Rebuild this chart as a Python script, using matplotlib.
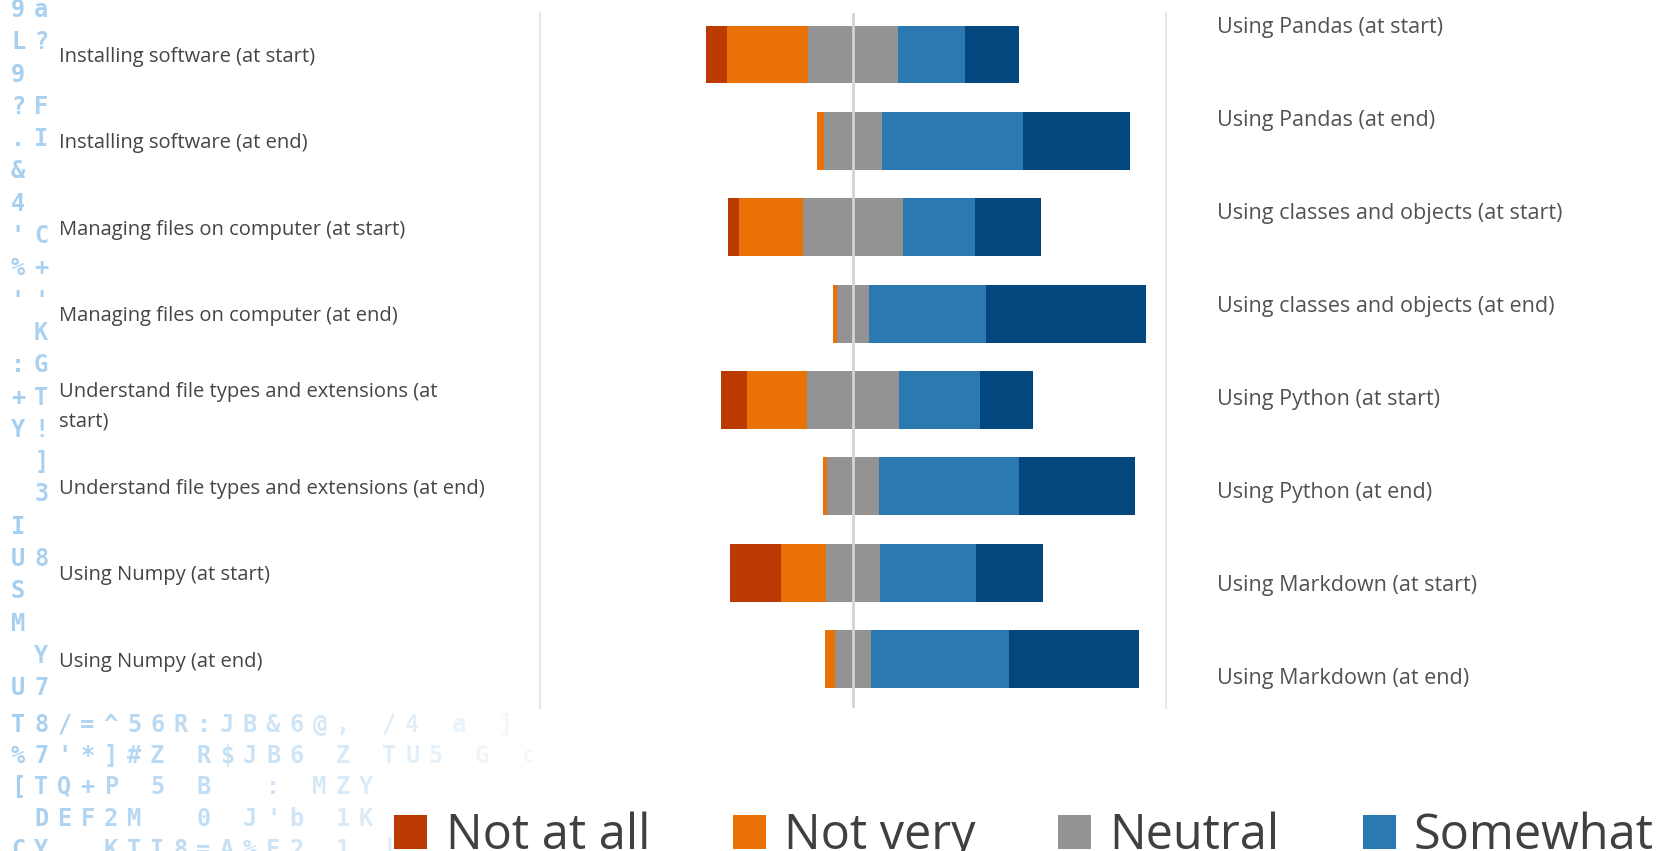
import matplotlib.pyplot as plt
import numpy as np

# survey answers (% of respondents), one bar per skill
categories = ["Installing software (at start)",
              "Installing software (at end)",
              "Managing files on computer (at start)",
              "Managing files on computer (at end)",
              "Understand file types and extensions (at\nstart)",
              "Understand file types and extensions (at end)",
              "Using Numpy (at start)",
              "Using Numpy (at end)"]
not_at_all = [6.7, 0.0, 3.5, 0.0, 8.4, 0.0, 16.1, 0.0]
not_very = [25.8, 2.3, 20.6, 1.2, 19.2, 1.4, 14.4, 3.2]
neutral = [29.0, 18.5, 31.7, 10.2, 29.4, 16.5, 17.3, 11.2]
somewhat = [21.2, 45.1, 23.1, 37.3, 25.9, 44.8, 30.7, 44.2]
very = [17.3, 34.0, 21.2, 51.2, 17.0, 37.2, 21.4, 41.5]

# labels of the next panel, cut off at the right
right_labels = ["Using Pandas (at start)", "Using Pandas (at end)",
                "Using classes and objects (at start)",
                "Using classes and objects (at end)",
                "Using Python (at start)", "Using Python (at end)",
                "Using Markdown (at start)", "Using Markdown (at end)"]

legend_labels = ["Not at all", "Not very", "Neutral", "Somewhat", "Very"]
colors = ["#BA3A02", "#E97105", "#939393", "#2C78B0", "#03477F"]

# faint background characters
matrix_top = ["9a", "L?", "9 ", "?F", ".I", "& ", "4 ", "'C", "%+", "''", " K",
              ":G", "+T", "Y!", " ]", " 3", "I ", "U8", "S ", "M ", " Y", "U7"]
matrix_bottom = ["T8/=^56R:JB&6@, /4 a ]",
                 "%7'*]#Z R$JB6 Z TU5 G c",
                 "[TQ+P 5 B  : MZY",
                 " DEF2M  0 J'b 1K",
                 "CY  KTI8=A%F2 1 |"]

W, H = 1664, 851
fig = plt.figure(figsize=(W / 100, H / 100), dpi=100)


def put_chars(rows, y0, dy):
    for r, row in enumerate(rows):
        for i, ch in enumerate(row):
            if ch == " ":
                continue
            fig.text((18 + 23.2 * i) / W, 1 - (y0 + dy * r) / H, ch,
                     ha="center", va="center", family="DejaVu Sans Mono",
                     weight="bold", fontsize=17, color="#3b95dc",
                     alpha=max(0.05, 0.45 - 0.018 * i))


put_chars(matrix_top, 10, 32.3)
put_chars(matrix_bottom, 725, 31.2)

ax = fig.add_axes([540 / W, 1 - 708 / H, 626 / W, (708 - 12.7) / H])
y = np.arange(len(categories))
parts = [np.array(v) for v in (not_at_all, not_very, neutral, somewhat, very)]
left = -(parts[2] / 2 + parts[1] + parts[0])
handles = []
for vals, c, lab in zip(parts, colors, legend_labels):
    b = ax.barh(y, vals, left=left, height=0.67, color=c, label=lab)
    handles.append(b)
    left = left + vals

ax.axvline(0, color="#d4d4d4", lw=2, zorder=5)
ax.set_xlim(-100, 100)
ax.set_ylim(7.567, -0.484)
ax.set_xticks([])
ax.set_yticks(y, categories)
ax.tick_params(axis="y", length=0, pad=(540 - 59) * 0.72)
for t in ax.get_yticklabels():
    t.set_ha("left")
    t.set_family("Open Sans")
    t.set_fontsize(14.5)
    t.set_color("#454545")
    t.set_linespacing(1.58)
for s in ["top", "bottom"]:
    ax.spines[s].set_visible(False)
for s in ["left", "right"]:
    ax.spines[s].set_color("#e8e8e8")
    ax.spines[s].set_linewidth(1.5)

ax2 = fig.add_axes([1217 / W, 1 - 725.5 / H, 447 / W, 745 / H])
ax2.set_ylim(7.5, -0.5)
ax2.axis("off")
for i, t in enumerate(right_labels):
    ax2.text(0, i, t, transform=ax2.get_yaxis_transform(), ha="left",
             va="center", family="Open Sans", fontsize=15.5, color="#525252")

fig.legend(handles, legend_labels, loc="lower left",
           bbox_to_anchor=(394 / W, -0.012), ncol=5, frameon=False,
           prop={"family": "Open Sans", "size": 35}, labelcolor="#404040",
           handlelength=0.68, handleheight=0.68, handletextpad=0.38,
           columnspacing=1.7, borderpad=0, borderaxespad=0)

fig.savefig("out.png", dpi=100)
